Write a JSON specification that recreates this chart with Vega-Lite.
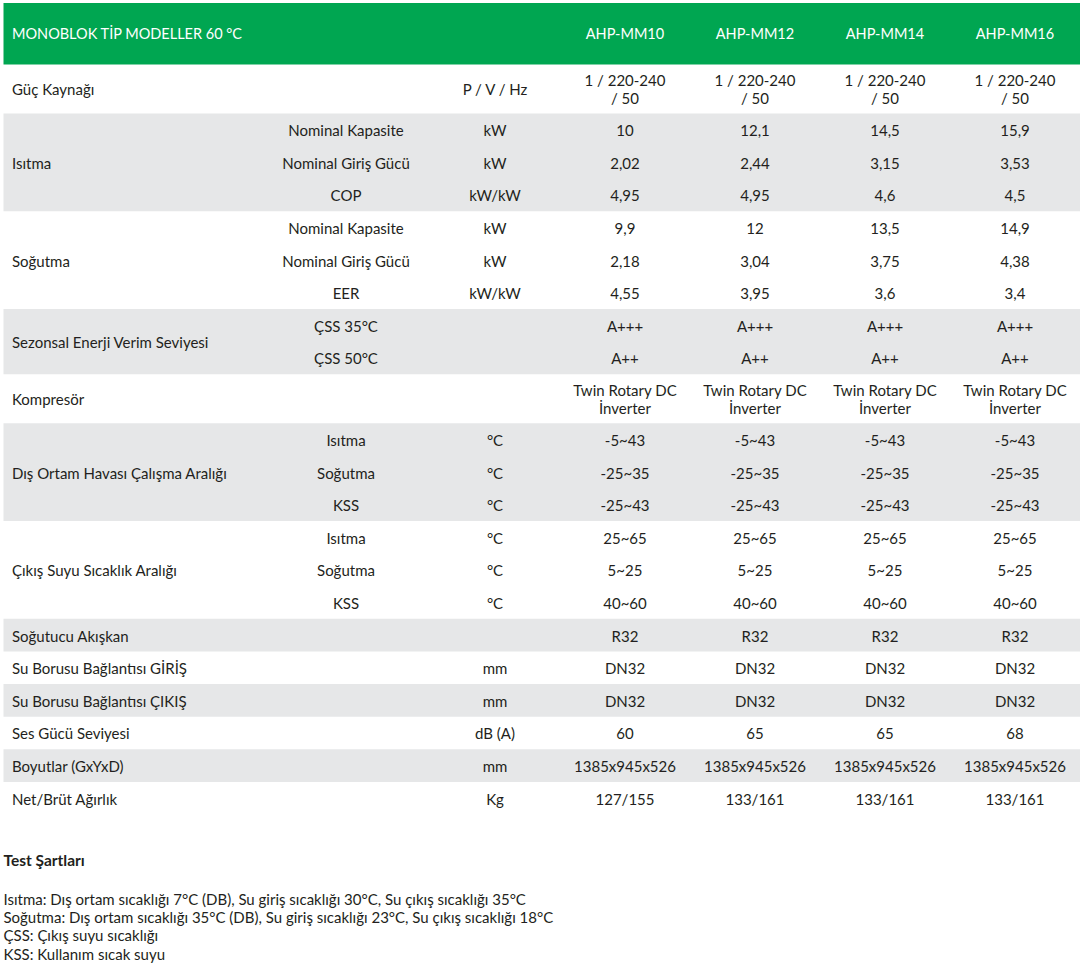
{
  "$schema": "https://vega.github.io/schema/vega-lite/v6.json",
  "width": 1083,
  "height": 971,
  "autosize": "none",
  "padding": 0,
  "background": "white",
  "config": {"view": {"stroke": null}, "text": {"font": "Lato", "fontSize": 15, "color": "#231f20", "baseline": "middle", "lineBreak": "\n", "lineHeight": 18.5, "dy": 1.5}},
  "datasets": {
    "bands": [
      {"r0": 0, "r1": 1, "kind": "header"},
      {"r0": 2.5, "r1": 5.5, "kind": "gray"},
      {"r0": 8.5, "r1": 10.5, "kind": "gray"},
      {"r0": 12, "r1": 15, "kind": "gray"},
      {"r0": 18, "r1": 19, "kind": "gray"},
      {"r0": 20, "r1": 21, "kind": "gray"},
      {"r0": 22, "r1": 23, "kind": "gray"}
    ],
    "cells": [
      {"r": 0.5, "c": 1, "kind": "headleft", "text": "MONOBLOK TİP MODELLER 60 °C"},
      {"r": 0.5, "c": 4, "kind": "head", "text": "AHP-MM10"},
      {"r": 0.5, "c": 5, "kind": "head", "text": "AHP-MM12"},
      {"r": 0.5, "c": 6, "kind": "head", "text": "AHP-MM14"},
      {"r": 0.5, "c": 7, "kind": "head", "text": "AHP-MM16"},

      {"r": 1.75, "c": 1, "kind": "label", "text": "Güç Kaynağı"},
      {"r": 1.75, "c": 3, "kind": "body", "text": "P / V / Hz"},
      {"r": 1.75, "c": 4, "kind": "body2", "text": "1 / 220-240\n/ 50"},
      {"r": 1.75, "c": 5, "kind": "body2", "text": "1 / 220-240\n/ 50"},
      {"r": 1.75, "c": 6, "kind": "body2", "text": "1 / 220-240\n/ 50"},
      {"r": 1.75, "c": 7, "kind": "body2", "text": "1 / 220-240\n/ 50"},

      {"r": 4, "c": 1, "kind": "label", "text": "Isıtma"},
      {"r": 3, "c": 2, "kind": "body", "text": "Nominal Kapasite"},
      {"r": 3, "c": 3, "kind": "body", "text": "kW"},
      {"r": 3, "c": 4, "kind": "body", "text": "10"},
      {"r": 3, "c": 5, "kind": "body", "text": "12,1"},
      {"r": 3, "c": 6, "kind": "body", "text": "14,5"},
      {"r": 3, "c": 7, "kind": "body", "text": "15,9"},
      {"r": 4, "c": 2, "kind": "body", "text": "Nominal Giriş Gücü"},
      {"r": 4, "c": 3, "kind": "body", "text": "kW"},
      {"r": 4, "c": 4, "kind": "body", "text": "2,02"},
      {"r": 4, "c": 5, "kind": "body", "text": "2,44"},
      {"r": 4, "c": 6, "kind": "body", "text": "3,15"},
      {"r": 4, "c": 7, "kind": "body", "text": "3,53"},
      {"r": 5, "c": 2, "kind": "body", "text": "COP"},
      {"r": 5, "c": 3, "kind": "body", "text": "kW/kW"},
      {"r": 5, "c": 4, "kind": "body", "text": "4,95"},
      {"r": 5, "c": 5, "kind": "body", "text": "4,95"},
      {"r": 5, "c": 6, "kind": "body", "text": "4,6"},
      {"r": 5, "c": 7, "kind": "body", "text": "4,5"},

      {"r": 7, "c": 1, "kind": "label", "text": "Soğutma"},
      {"r": 6, "c": 2, "kind": "body", "text": "Nominal Kapasite"},
      {"r": 6, "c": 3, "kind": "body", "text": "kW"},
      {"r": 6, "c": 4, "kind": "body", "text": "9,9"},
      {"r": 6, "c": 5, "kind": "body", "text": "12"},
      {"r": 6, "c": 6, "kind": "body", "text": "13,5"},
      {"r": 6, "c": 7, "kind": "body", "text": "14,9"},
      {"r": 7, "c": 2, "kind": "body", "text": "Nominal Giriş Gücü"},
      {"r": 7, "c": 3, "kind": "body", "text": "kW"},
      {"r": 7, "c": 4, "kind": "body", "text": "2,18"},
      {"r": 7, "c": 5, "kind": "body", "text": "3,04"},
      {"r": 7, "c": 6, "kind": "body", "text": "3,75"},
      {"r": 7, "c": 7, "kind": "body", "text": "4,38"},
      {"r": 8, "c": 2, "kind": "body", "text": "EER"},
      {"r": 8, "c": 3, "kind": "body", "text": "kW/kW"},
      {"r": 8, "c": 4, "kind": "body", "text": "4,55"},
      {"r": 8, "c": 5, "kind": "body", "text": "3,95"},
      {"r": 8, "c": 6, "kind": "body", "text": "3,6"},
      {"r": 8, "c": 7, "kind": "body", "text": "3,4"},

      {"r": 9.5, "c": 1, "kind": "label", "text": "Sezonsal Enerji Verim Seviyesi"},
      {"r": 9, "c": 2, "kind": "body", "text": "ÇSS 35°C"},
      {"r": 9, "c": 4, "kind": "body", "text": "A+++"},
      {"r": 9, "c": 5, "kind": "body", "text": "A+++"},
      {"r": 9, "c": 6, "kind": "body", "text": "A+++"},
      {"r": 9, "c": 7, "kind": "body", "text": "A+++"},
      {"r": 10, "c": 2, "kind": "body", "text": "ÇSS 50°C"},
      {"r": 10, "c": 4, "kind": "body", "text": "A++"},
      {"r": 10, "c": 5, "kind": "body", "text": "A++"},
      {"r": 10, "c": 6, "kind": "body", "text": "A++"},
      {"r": 10, "c": 7, "kind": "body", "text": "A++"},

      {"r": 11.25, "c": 1, "kind": "label", "text": "Kompresör"},
      {"r": 11.25, "c": 4, "kind": "body2", "text": "Twin Rotary DC\nİnverter"},
      {"r": 11.25, "c": 5, "kind": "body2", "text": "Twin Rotary DC\nİnverter"},
      {"r": 11.25, "c": 6, "kind": "body2", "text": "Twin Rotary DC\nİnverter"},
      {"r": 11.25, "c": 7, "kind": "body2", "text": "Twin Rotary DC\nİnverter"},

      {"r": 13.5, "c": 1, "kind": "label", "text": "Dış Ortam Havası Çalışma Aralığı"},
      {"r": 12.5, "c": 2, "kind": "body", "text": "Isıtma"},
      {"r": 12.5, "c": 3, "kind": "body", "text": "°C"},
      {"r": 12.5, "c": 4, "kind": "body", "text": "-5~43"},
      {"r": 12.5, "c": 5, "kind": "body", "text": "-5~43"},
      {"r": 12.5, "c": 6, "kind": "body", "text": "-5~43"},
      {"r": 12.5, "c": 7, "kind": "body", "text": "-5~43"},
      {"r": 13.5, "c": 2, "kind": "body", "text": "Soğutma"},
      {"r": 13.5, "c": 3, "kind": "body", "text": "°C"},
      {"r": 13.5, "c": 4, "kind": "body", "text": "-25~35"},
      {"r": 13.5, "c": 5, "kind": "body", "text": "-25~35"},
      {"r": 13.5, "c": 6, "kind": "body", "text": "-25~35"},
      {"r": 13.5, "c": 7, "kind": "body", "text": "-25~35"},
      {"r": 14.5, "c": 2, "kind": "body", "text": "KSS"},
      {"r": 14.5, "c": 3, "kind": "body", "text": "°C"},
      {"r": 14.5, "c": 4, "kind": "body", "text": "-25~43"},
      {"r": 14.5, "c": 5, "kind": "body", "text": "-25~43"},
      {"r": 14.5, "c": 6, "kind": "body", "text": "-25~43"},
      {"r": 14.5, "c": 7, "kind": "body", "text": "-25~43"},

      {"r": 16.5, "c": 1, "kind": "label", "text": "Çıkış Suyu Sıcaklık Aralığı"},
      {"r": 15.5, "c": 2, "kind": "body", "text": "Isıtma"},
      {"r": 15.5, "c": 3, "kind": "body", "text": "°C"},
      {"r": 15.5, "c": 4, "kind": "body", "text": "25~65"},
      {"r": 15.5, "c": 5, "kind": "body", "text": "25~65"},
      {"r": 15.5, "c": 6, "kind": "body", "text": "25~65"},
      {"r": 15.5, "c": 7, "kind": "body", "text": "25~65"},
      {"r": 16.5, "c": 2, "kind": "body", "text": "Soğutma"},
      {"r": 16.5, "c": 3, "kind": "body", "text": "°C"},
      {"r": 16.5, "c": 4, "kind": "body", "text": "5~25"},
      {"r": 16.5, "c": 5, "kind": "body", "text": "5~25"},
      {"r": 16.5, "c": 6, "kind": "body", "text": "5~25"},
      {"r": 16.5, "c": 7, "kind": "body", "text": "5~25"},
      {"r": 17.5, "c": 2, "kind": "body", "text": "KSS"},
      {"r": 17.5, "c": 3, "kind": "body", "text": "°C"},
      {"r": 17.5, "c": 4, "kind": "body", "text": "40~60"},
      {"r": 17.5, "c": 5, "kind": "body", "text": "40~60"},
      {"r": 17.5, "c": 6, "kind": "body", "text": "40~60"},
      {"r": 17.5, "c": 7, "kind": "body", "text": "40~60"},

      {"r": 18.5, "c": 1, "kind": "label", "text": "Soğutucu Akışkan"},
      {"r": 18.5, "c": 4, "kind": "body", "text": "R32"},
      {"r": 18.5, "c": 5, "kind": "body", "text": "R32"},
      {"r": 18.5, "c": 6, "kind": "body", "text": "R32"},
      {"r": 18.5, "c": 7, "kind": "body", "text": "R32"},

      {"r": 19.5, "c": 1, "kind": "label", "text": "Su Borusu Bağlantısı GİRİŞ"},
      {"r": 19.5, "c": 3, "kind": "body", "text": "mm"},
      {"r": 19.5, "c": 4, "kind": "body", "text": "DN32"},
      {"r": 19.5, "c": 5, "kind": "body", "text": "DN32"},
      {"r": 19.5, "c": 6, "kind": "body", "text": "DN32"},
      {"r": 19.5, "c": 7, "kind": "body", "text": "DN32"},

      {"r": 20.5, "c": 1, "kind": "label", "text": "Su Borusu Bağlantısı ÇIKIŞ"},
      {"r": 20.5, "c": 3, "kind": "body", "text": "mm"},
      {"r": 20.5, "c": 4, "kind": "body", "text": "DN32"},
      {"r": 20.5, "c": 5, "kind": "body", "text": "DN32"},
      {"r": 20.5, "c": 6, "kind": "body", "text": "DN32"},
      {"r": 20.5, "c": 7, "kind": "body", "text": "DN32"},

      {"r": 21.5, "c": 1, "kind": "label", "text": "Ses Gücü Seviyesi"},
      {"r": 21.5, "c": 3, "kind": "body", "text": "dB (A)"},
      {"r": 21.5, "c": 4, "kind": "body", "text": "60"},
      {"r": 21.5, "c": 5, "kind": "body", "text": "65"},
      {"r": 21.5, "c": 6, "kind": "body", "text": "65"},
      {"r": 21.5, "c": 7, "kind": "body", "text": "68"},

      {"r": 22.5, "c": 1, "kind": "label", "text": "Boyutlar (GxYxD)"},
      {"r": 22.5, "c": 3, "kind": "body", "text": "mm"},
      {"r": 22.5, "c": 4, "kind": "body", "text": "1385x945x526"},
      {"r": 22.5, "c": 5, "kind": "body", "text": "1385x945x526"},
      {"r": 22.5, "c": 6, "kind": "body", "text": "1385x945x526"},
      {"r": 22.5, "c": 7, "kind": "body", "text": "1385x945x526"},

      {"r": 23.5, "c": 1, "kind": "label", "text": "Net/Brüt Ağırlık"},
      {"r": 23.5, "c": 3, "kind": "body", "text": "Kg"},
      {"r": 23.5, "c": 4, "kind": "body", "text": "127/155"},
      {"r": 23.5, "c": 5, "kind": "body", "text": "133/161"},
      {"r": 23.5, "c": 6, "kind": "body", "text": "133/161"},
      {"r": 23.5, "c": 7, "kind": "body", "text": "133/161"},

      {"r": 25, "c": 0, "kind": "foottitle", "text": "Test Şartları"},
      {"r": 26, "c": 0, "kind": "foot", "text": "Isıtma: Dış ortam sıcaklığı 7°C (DB), Su giriş sıcaklığı 30°C, Su çıkış sıcaklığı 35°C"},
      {"r": 27, "c": 0, "kind": "foot", "text": "Soğutma: Dış ortam sıcaklığı 35°C (DB), Su giriş sıcaklığı 23°C, Su çıkış sıcaklığı 18°C"},
      {"r": 28, "c": 0, "kind": "foot", "text": "ÇSS: Çıkış suyu sıcaklığı"},
      {"r": 29, "c": 0, "kind": "foot", "text": "KSS: Kullanım sıcak suyu"}
    ]
  },
  "layer": [
    {
      "data": {"name": "bands"},
      "mark": {"type": "rect"},
      "encoding": {
        "x": {"datum": 0, "type": "quantitative", "scale": {"domain": [0, 1, 2, 3, 4, 5, 6, 7, 8], "range": [3.5, 12, 346, 495, 625, 755, 885, 1015, 1080], "zero": false, "nice": false}, "axis": null},
        "x2": {"datum": 8},
        "y": {"field": "r0", "type": "quantitative", "scale": {"domain": [0, 1, 24, 25, 26, 29], "range": [3, 64.5, 814.5, 859.5, 898, 953], "zero": false, "nice": false}, "axis": null},
        "y2": {"field": "r1"},
        "color": {"field": "kind", "type": "nominal", "scale": {"domain": ["header", "gray"], "range": ["#00a651", "#e6e7e8"]}, "legend": null}
      }
    },
    {
      "data": {"name": "cells"},
      "transform": [{"filter": "datum.kind === 'headleft'"}],
      "mark": {"type": "text", "align": "left", "color": "#ffffff", "fontSize": 14.5, "dy": 1},
      "encoding": {
        "x": {"field": "c", "type": "quantitative", "axis": null},
        "y": {"field": "r", "type": "quantitative", "axis": null},
        "text": {"field": "text"}
      }
    },
    {
      "data": {"name": "cells"},
      "transform": [{"filter": "datum.kind === 'head'"}],
      "mark": {"type": "text", "align": "center", "color": "#ffffff", "fontSize": 14.5, "dy": 1},
      "encoding": {
        "x": {"field": "c", "type": "quantitative", "axis": null},
        "y": {"field": "r", "type": "quantitative", "axis": null},
        "text": {"field": "text"}
      }
    },
    {
      "data": {"name": "cells"},
      "transform": [{"filter": "datum.kind === 'label'"}],
      "mark": {"type": "text", "align": "left"},
      "encoding": {
        "x": {"field": "c", "type": "quantitative", "axis": null},
        "y": {"field": "r", "type": "quantitative", "axis": null},
        "text": {"field": "text"}
      }
    },
    {
      "data": {"name": "cells"},
      "transform": [{"filter": "datum.kind === 'body'"}],
      "mark": {"type": "text", "align": "center"},
      "encoding": {
        "x": {"field": "c", "type": "quantitative", "axis": null},
        "y": {"field": "r", "type": "quantitative", "axis": null},
        "text": {"field": "text"}
      }
    },
    {
      "data": {"name": "cells"},
      "transform": [{"filter": "datum.kind === 'body2'"}],
      "mark": {"type": "text", "align": "center", "dy": -8},
      "encoding": {
        "x": {"field": "c", "type": "quantitative", "axis": null},
        "y": {"field": "r", "type": "quantitative", "axis": null},
        "text": {"field": "text"}
      }
    },
    {
      "data": {"name": "cells"},
      "transform": [{"filter": "datum.kind === 'foottitle'"}],
      "mark": {"type": "text", "align": "left", "fontWeight": "bold", "fontSize": 15.5},
      "encoding": {
        "x": {"field": "c", "type": "quantitative", "axis": null},
        "y": {"field": "r", "type": "quantitative", "axis": null},
        "text": {"field": "text"}
      }
    },
    {
      "data": {"name": "cells"},
      "transform": [{"filter": "datum.kind === 'foot'"}],
      "mark": {"type": "text", "align": "left", "fontSize": 15},
      "encoding": {
        "x": {"field": "c", "type": "quantitative", "axis": null},
        "y": {"field": "r", "type": "quantitative", "axis": null},
        "text": {"field": "text"}
      }
    }
  ]
}
